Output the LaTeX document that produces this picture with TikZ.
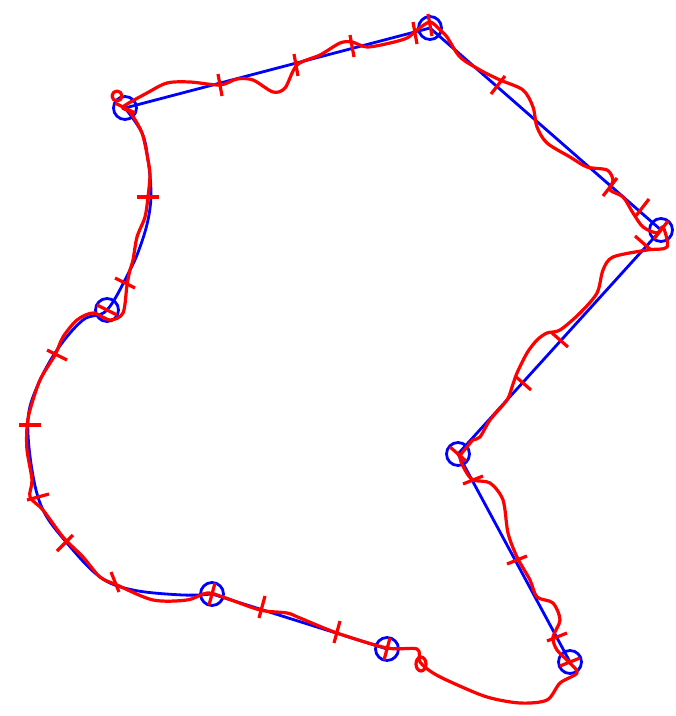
\documentclass[tikz,border=0pt]{standalone}
\usepackage{tikz}
\begin{document}
\begin{tikzpicture}[x=0.5pt, y=-0.5pt,
    vtx/.style={circle, draw=blue, line width=1.4pt, minimum size=11.5pt, inner sep=0pt},
    route/.style={blue, line width=1.4pt, line join=round},
    track/.style={red, line width=1.6pt, line join=round, line cap=round},
    tk/.style={red, line width=1.6pt}
]
\useasboundingbox (0,0) rectangle (675,716);

% waypoints
\node[vtx] (A) at (125,108) {};
\node[vtx] (B) at (430,28) {};
\node[vtx] (C) at (661,230) {};
\node[vtx] (D) at (458,454) {};
\node[vtx] (E) at (570,662) {};
\node[vtx] (F) at (387,649) {};
\node[vtx] (G) at (212,594) {};
\node[vtx] (H) at (107,310) {};

% planned route
\draw[route] (F.center) -- (G.center)
  plot[smooth, tension=0.6] coordinates {(212,594) (183,595) (133,590) (100,577) (67,543)
    (43,510) (32,470) (28,420) (37,387) (57,350) (83,320) (107,310) (130,270) (140,247)
    (148,220) (151,193) (148,160) (142,133) (125,108)}
  -- (B.center) -- (C.center) -- (D.center) -- (E.center);

% recorded track
\draw[track] plot[smooth cycle, tension=0.5] coordinates {
  (123,107) (147,93) (167,83) (190,82) (220,85) (237,79) (253,80) (273,92) (285,88)
  (297,65) (320,55) (340,43) (352,42) (367,47) (390,43) (407,38) (417,30) (430,22)
  (440,30) (447,37) (460,57) (480,70) (500,80) (523,90) (533,107) (537,127) (547,143)
  (570,157) (587,167) (607,170) (613,180) (610,190) (623,197) (633,213) (643,227)
  (657,233) (663,227) (667,247) (647,250) (613,257) (603,270) (597,293) (580,313)
  (560,330) (547,333) (537,340) (527,353) (517,373) (512,387) (507,400) (490,420)
  (480,437) (473,440) (467,447) (460,457) (465,470) (473,480) (490,483) (503,500)
  (508,533) (517,557) (530,580) (537,597) (553,603) (560,620) (553,637) (557,650)
  (570,663) (577,673) (560,683) (547,700) (520,703) (487,697) (453,683) (433,673)
  (420,662) (417,649) (387,648) (337,633) (300,618) (287,613) (260,610) (223,597)
  (207,593) (187,600) (153,600) (117,585) (100,577) (83,557) (63,537) (43,510)
  (30,497) (32,480) (27,450) (27,427) (30,410) (40,380) (55,355) (63,337) (77,320)
  (93,313) (110,320) (123,313) (127,285) (130,270) (133,260) (137,237) (145,217)
  (148,197) (150,175) (148,160) (142,133) (130,112)};
\draw[track] (117,96) circle (5);
\draw[track] (421,664) ellipse (5 and 7);

% sample marks
\foreach \x/\y/\u/\v in {220/85/2/11, 296/65/2/11, 352/46/2/11, 415/33/2/11, 430/25/2/11,
    498/85/-7/9, 610/187/-7/9, 642/208/-7/9, 661/230/-7/9, 643/243/8/7, 560/340/8/7,
    523/383/8/7, 458/454/8/7, 473/480/10/-4, 517/560/10/-4, 557/637/10/-4, 570/662/10/-4,
    387/649/3/-11, 337/632/3/-11, 262/607/3/-11, 212/594/3/-11, 115/582/4/10,
    65/543/8/-8, 38/497/11/-3, 30/425/11/0, 57/355/10/5, 107/310/10/5, 125/283/10/5,
    148/197/11/0, 125/108/10/5}
  \draw[tk] (\x,\y) ++(-\u,-\v) -- ++(2*\u,2*\v);
\end{tikzpicture}
\end{document}
